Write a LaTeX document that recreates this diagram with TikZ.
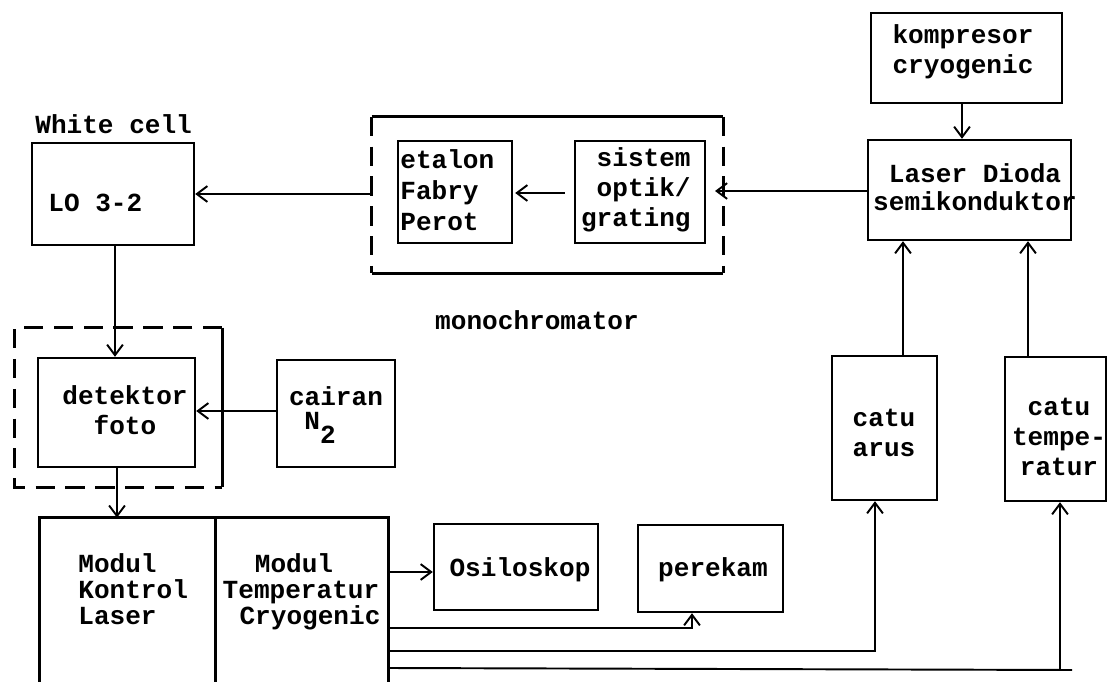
\documentclass[tikz,border=0pt]{standalone}
\usepackage{fontspec}
\setmonofont{Liberation Mono}
\usetikzlibrary{arrows.meta,calc,fit}
\newcommand{\tw}[1]{\ttfamily\bfseries\fontsize{14.85}{#1}\selectfont}
\begin{document}
\begin{tikzpicture}[x=0.02cm,y=-0.02cm,
  box/.style={draw, line width=1.4pt, inner sep=0pt},
  ghost/.style={inner sep=0pt},
  lbl/.style={inner sep=0pt, font=\tw{17pt}, align=center},
  tight/.style={text height=0.72em, text depth=0.12em},
  conn/.style={line width=1.1pt},
  arr/.style={conn, -{Straight Barb[length=6pt,width=9pt,line width=1.1pt]}},
  frame/.style={line width=1.4pt},
  dashframe/.style={line width=1.4pt, dash pattern=on 11pt off 6pt}
]
\useasboundingbox (0,0) rectangle (1109,682);

% ---- boxes ----
\node[box, fit={(32,143) (194,245)}] (lo) {};
\node[ghost, fit={(372,117) (723,273)}] (mono) {};
\node[box, fit={(398,141) (512,243)}] (etalon) {};
\node[box, fit={(575,141) (705,243)}] (sistem) {};
\node[box, fit={(871,13) (1062,103)}] (komp) {};
\node[box, fit={(868,140) (1071,240)}] (laser) {};
\node[box, fit={(832,356) (937,500)}] (catuarus) {};
\node[box, fit={(1005,357) (1106,501)}] (catutemp) {};
\node[ghost, fit={(15,328) (222,487)}] (detframe) {};
\node[box, fit={(38,358) (195,467)}] (detektor) {};
\node[box, fit={(277,360) (395,467)}] (cairan) {};
\node[ghost, fit={(40,518) (215,682)}] (modk) {};
\node[ghost, fit={(215,518) (388,682)}] (modt) {};
\node[box, fit={(434,524) (598,610)}] (osi) {};
\node[box, fit={(638,525) (783,612)}] (perekam) {};

% ---- frames ----
\draw[frame] (mono.north west) -- (mono.north east);
\draw[frame] (mono.south west) -- (mono.south east);
\draw[dashframe] (mono.north west) -- (mono.south west);
\draw[dashframe] (mono.north east) -- (mono.south east);

\draw[dashframe] (detframe.north east) -- (detframe.north west) -- (detframe.south west) -- (detframe.south east);
\draw[frame] (detframe.north east) -- (detframe.south east);

\draw[frame] (modk.south west) -- (modk.north west) -- (modt.north east) -- (modt.south east);
\draw[frame] (modk.north east) -- (modk.south east);

% ---- labels ----
\node[lbl, anchor=west] at (35,124) {White cell};
\node[lbl, anchor=west] at (48,203) {LO 3-2};
\node[lbl, align=left, anchor=west, font=\tw{17.5pt}] at (400,190) {etalon\\Fabry\\Perot};
\node[lbl, align=right, anchor=east] at (691,190) {sistem\\optik/\\grating};
\node[lbl] at (537,320) {monochromator};
\node[lbl] at (963,52) {kompresor\\cryogenic};
\node[lbl, tight] at (975,177) {Laser Dioda};
\node[lbl, tight] at (975,205) {semikonduktor};
\node[lbl] at (125,410) {detektor\\foto};
\node[lbl] at (336,396) {cairan};
\node[lbl, anchor=west] at (304,428) {N\raisebox{-0.55em}{2}};
\node[lbl, tight, anchor=west] at (78,567) {Modul};
\node[lbl, tight, anchor=west] at (78,593) {Kontrol};
\node[lbl, tight, anchor=west] at (78,619) {Laser};
\node[lbl, tight] at (294,567) {Modul};
\node[lbl, tight] at (301,593) {Temperatur};
\node[lbl, tight] at (310,619) {Cryogenic};
\node[lbl] at (520,570) {Osiloskop};
\node[lbl] at (713,570) {perekam};
\node[lbl] at (884,433) {catu\\arus};
\node[lbl] at (1059,437) {catu\\tempe-\\ratur};

% ---- connectors ----
\coordinate (monoin) at (715,191);
\coordinate (xa) at (903,0);
\coordinate (xb) at (1028,0);
\coordinate (xp) at (692,0);
\coordinate (xc) at (875,0);
\coordinate (xd) at (1060,0);
\coordinate (yend) at (1072,670);

\draw[arr] (mono.west |- 0,194) -- (lo.east |- 0,194);
\draw[arr] ($(sistem.west)+(-9,1)$) -- ($(etalon.east)+(2,1)$);
\draw[arr] (laser.west |- monoin) -- (monoin);
\draw[arr] (komp.south -| 962,0) -- (laser.north -| 962,0);
\draw[arr] (catuarus.north -| xa) -- (laser.south -| xa);
\draw[arr] (catutemp.north -| xb) -- (laser.south -| xb);
\draw[arr] (lo.south -| 115,0) -- (detektor.north -| 115,0);
\draw[arr] (cairan.west |- 0,411) -- (detektor.east |- 0,411);
\draw[arr] (detektor.south -| 117,0) -- (modk.north -| 117,0);
\draw[arr] (modt.east |- 0,572) -- (osi.west |- 0,572);
\draw[arr] (modt.east |- 0,628) -- (xp |- 0,628) -- (perekam.south -| xp);
\draw[arr] (modt.east |- 0,651) -- (xc |- 0,651) -- (catuarus.south -| xc);
\draw[conn] (modt.east |- 0,668) -- (yend);
\draw[arr] (xd |- yend) -- (catutemp.south -| xd);
\end{tikzpicture}
\end{document}
